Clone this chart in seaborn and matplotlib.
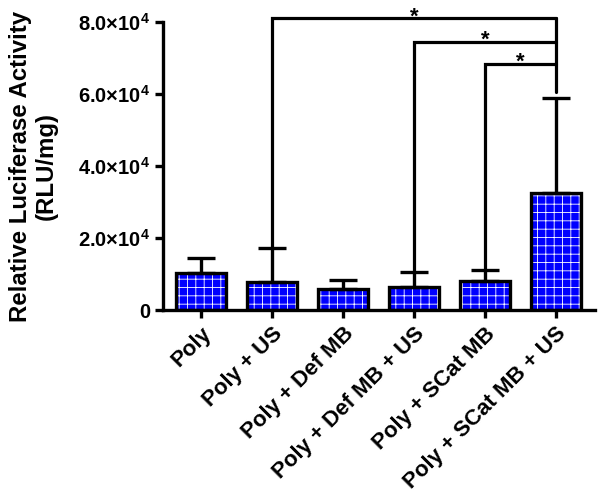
import numpy as np
import pandas as pd
import matplotlib
matplotlib.use("Agg")
import matplotlib.pyplot as plt
from matplotlib.patches import Rectangle
import seaborn as sns

# data
groups = ["Poly", "Poly + US", "Poly + Def MB", "Poly + Def MB + US",
          "Poly + SCat MB", "Poly + SCat MB + US"]
means = [10300, 7700, 5800, 6300, 8000, 32500]
errs = [4100, 9500, 2500, 4200, 3000, 26500]
yticks = [0, 20000, 40000, 60000, 80000]
ytick_labels = ["0", r"2.0×10$^{4}$", r"4.0×10$^{4}$", r"6.0×10$^{4}$",
                r"8.0×10$^{4}$"]

# significance brackets: (left group, right group, bracket height)
brackets = [(1, 5, 81000), (3, 5, 74400), (4, 5, 68300)]
bracket_bottom = 60500

sns.set_style("ticks")
plt.rcParams["font.family"] = ["Liberation Sans", "DejaVu Sans"]
plt.rcParams["font.weight"] = "bold"
plt.rcParams["mathtext.fontset"] = "custom"
plt.rcParams["mathtext.rm"] = "Liberation Sans:bold"
plt.rcParams["mathtext.it"] = "Liberation Sans:bold"
plt.rcParams["mathtext.bf"] = "Liberation Sans:bold"
plt.rcParams["hatch.linewidth"] = 0.6
for k in ["text.color", "axes.labelcolor", "xtick.color", "ytick.color",
          "axes.edgecolor"]:
    plt.rcParams[k] = "black"

df = pd.DataFrame({"group": groups, "value": means})

fig = plt.figure(figsize=(6.02, 5.0), dpi=100)
ax = fig.add_axes([0.271, 0.38, 0.717, 0.576])

sns.barplot(data=df, x="group", y="value", color="#0000ff", width=0.7,
            edgecolor="white", linewidth=0, hatch="++", saturation=1,
            errorbar=None, ax=ax)
# black outline on top of hatching
for p in list(ax.patches):
    ax.add_patch(Rectangle(p.get_xy(), p.get_width(), p.get_height(),
                           fill=False, edgecolor="black", linewidth=2.4,
                           zorder=3))

x = np.arange(len(groups))
ax.errorbar(x, means, yerr=[np.zeros(len(errs)), errs], fmt="none",
            ecolor="black", elinewidth=2.4, capsize=10, capthick=2.4,
            zorder=2)

# brackets
for left, right, h in brackets:
    top_left = means[left] + errs[left]
    ax.plot([left, left, right], [top_left, h, h], color="black", lw=2.3,
            clip_on=False, zorder=4, solid_joinstyle="miter")
    ax.text((left + right) / 2, h - 1100, "*", ha="center", va="baseline",
            fontsize=16, fontweight="bold", clip_on=False)
ax.plot([5, 5], [brackets[0][2], bracket_bottom], color="black", lw=2.3,
        clip_on=False, zorder=4)

ax.set_ylim(0, 80000)
ax.set_xlim(-0.535, 5.55)
ax.set_yticks(yticks)
ax.set_yticklabels(ytick_labels, fontsize=14.5, fontweight="bold")
ax.set_xticks(x)
ax.set_xticklabels(groups, rotation=45, ha="right", rotation_mode="anchor",
                   fontsize=16, fontweight="bold")
ax.set_xlabel("")
ax.set_ylabel("Relative Luciferase Activity\n(RLU/mg)", fontsize=17.3,
              fontweight="bold", linespacing=1.15)
ax.yaxis.set_label_coords(-0.245, 0.5)

for s in ["top", "right"]:
    ax.spines[s].set_visible(False)
for s in ["left", "bottom"]:
    ax.spines[s].set_linewidth(2.4)
ax.tick_params(axis="both", width=2.4, length=6, direction="out")

fig.savefig("out.png", dpi=100)
